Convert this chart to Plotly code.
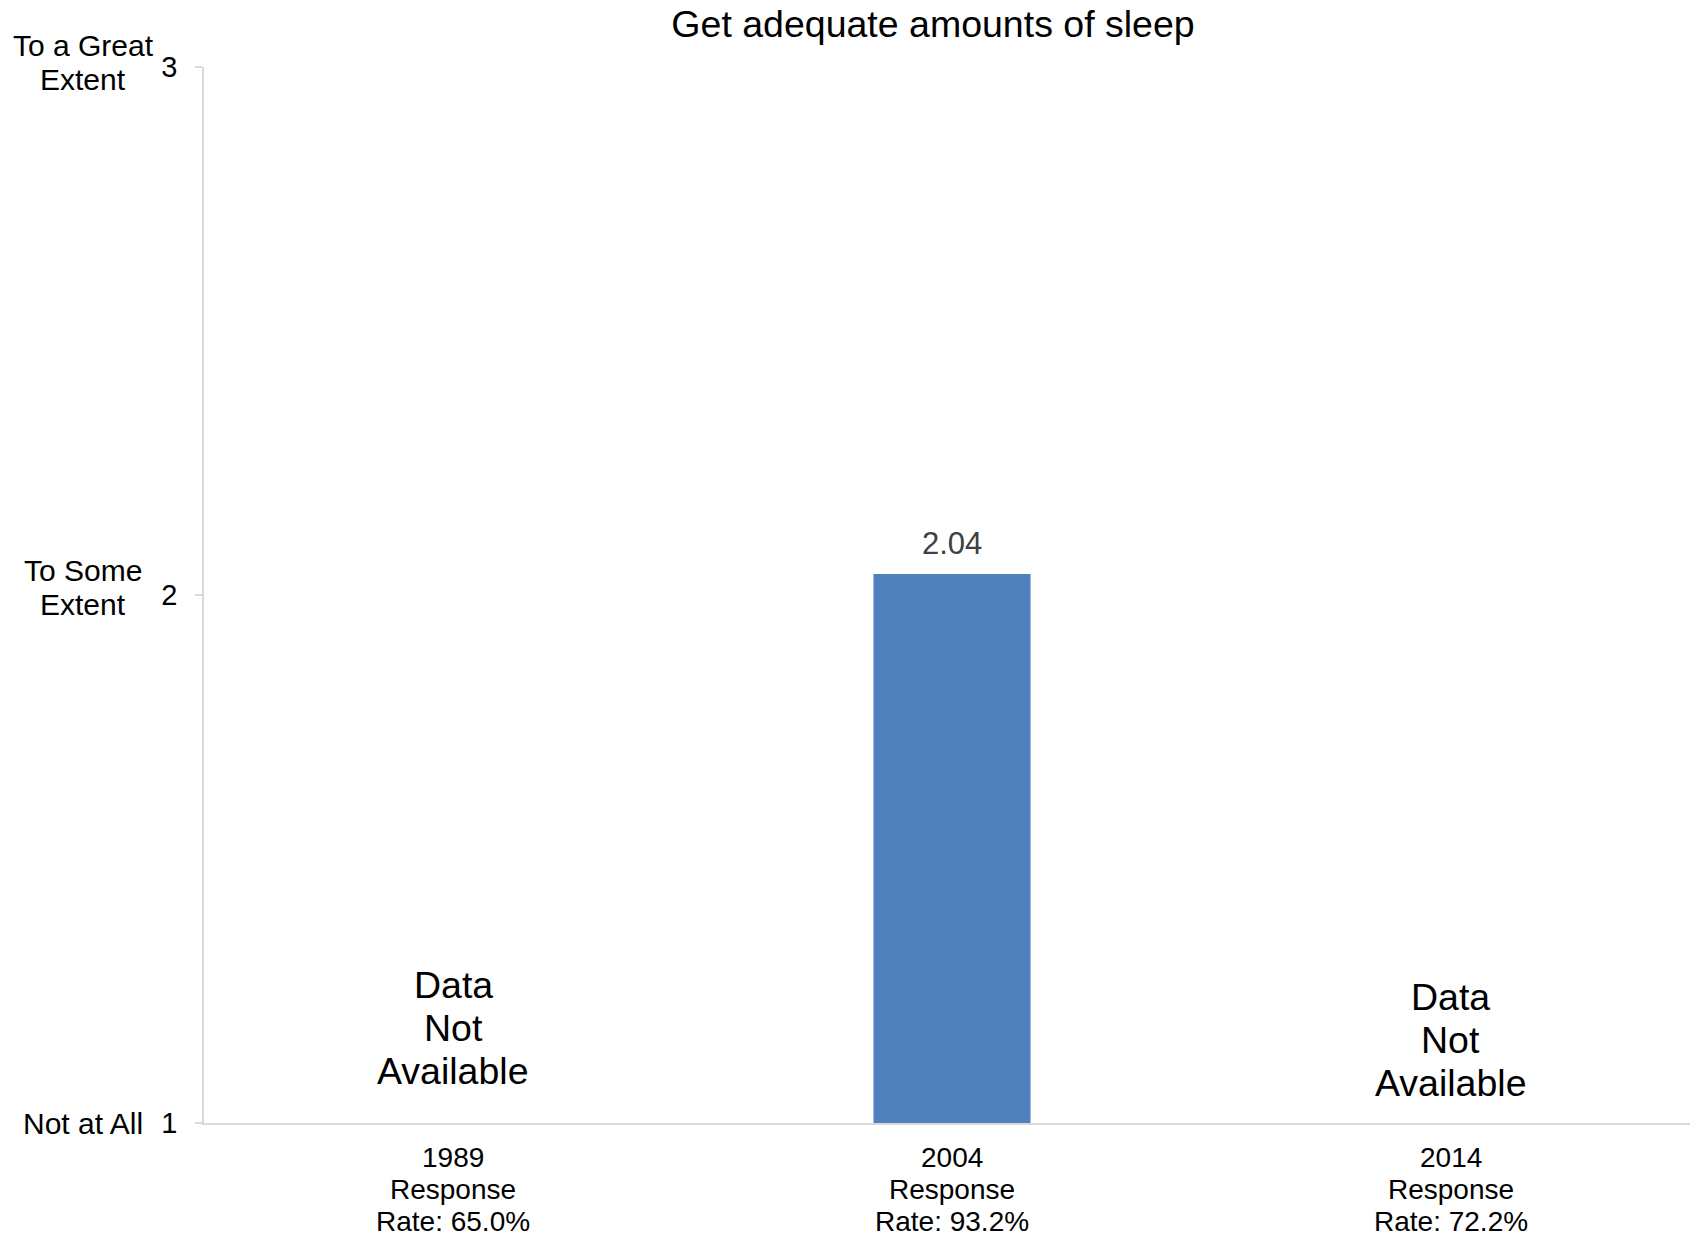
import plotly.graph_objects as go

years = ["1989", "2004", "2014"]
response_rates = ["Rate: 65.0%", "Rate: 93.2%", "Rate: 72.2%"]
categories = [f"{y} Response {r}" for y, r in zip(years, response_rates)]
category_lines = [[y, "Response", r] for y, r in zip(years, response_rates)]
values = [None, 2.04, None]
value_labels = ["", "2.04", ""]
y_tick_vals = [1, 2, 3]
y_tick_text = ["1", "2", "3"]
y_scale_labels = [["Not at All"], ["To Some", "Extent"], ["To a Great", "Extent"]]
missing_lines = ["Data", "Not", "Available"]
missing_y = [1.18, None, 1.157]

FONT = "Liberation Sans, Arial, sans-serif"
AXIS_COLOR = "#d9d9d9"
W, H = 1700, 1238  # plot area runs slightly past the right edge of the window, as in the reference

fig = go.Figure()
fig.add_trace(go.Bar(
    x=categories, y=values,
    marker=dict(color="#4f81bd", line=dict(width=0)),
    width=0.315, hoverinfo="skip",
))

annotations = []
for cat, v, lab in zip(categories, values, value_labels):
    if v is not None:
        annotations.append(dict(
            x=cat, xref="x", y=v, yref="y", text=lab, showarrow=False,
            font=dict(size=31, color="#404040", family=FONT),
            xanchor="center", yanchor="middle", yshift=30,
        ))
for cat, v, my in zip(categories, values, missing_y):
    if v is None:
        for i, line in enumerate(missing_lines):
            annotations.append(dict(
                x=cat, xref="x", y=my, yref="y", text=line, showarrow=False,
                font=dict(size=37.5, color="#000000", family=FONT),
                xanchor="center", yanchor="middle", yshift=(1 - i) * 43,
            ))
for cat, lines in zip(categories, category_lines):
    for i, line in enumerate(lines):
        annotations.append(dict(
            x=cat, xref="x", y=0, yref="paper", text=line, showarrow=False,
            font=dict(size=28, color="#000000", family=FONT),
            xanchor="center", yanchor="middle", yshift=-34 - 32 * i,
        ))
for yv, lines in zip(y_tick_vals, y_scale_labels):
    n = len(lines)
    for i, line in enumerate(lines):
        ys = 0 if n == 1 else (22 if yv == 3 else 25) - 34 * i
        annotations.append(dict(
            x=0, xref="paper", xshift=-121, y=yv, yref="y", text=line, showarrow=False,
            font=dict(size=30, color="#000000", family=FONT),
            xanchor="center", yanchor="middle", yshift=ys,
        ))

fig.update_layout(
    width=W, height=H,
    margin=dict(l=204, r=0, t=67, b=115),
    paper_bgcolor="white", plot_bgcolor="white",
    showlegend=False,
    title=dict(text="Get adequate amounts of sleep", x=933/W, xanchor="center",
               y=1-24/H, yanchor="middle",
               font=dict(size=37.5, color="#000000", family=FONT)),
    font=dict(family=FONT, color="#000000"),
    annotations=annotations,
)
fig.update_xaxes(
    type="category", categoryorder="array", categoryarray=categories,
    range=[-0.5, 2.5],
    showline=True, linecolor=AXIS_COLOR, linewidth=1.5, showgrid=False,
    ticks="", showticklabels=False, automargin=False,
)
fig.update_yaxes(
    range=[1, 3], tickvals=y_tick_vals, ticktext=y_tick_text,
    showline=True, linecolor=AXIS_COLOR, linewidth=1.5, showgrid=False,
    ticks="outside", ticklen=7, tickcolor=AXIS_COLOR, tickwidth=1.5,
    tickfont=dict(size=29, color="#000000", family=FONT),
    ticklabelstandoff=12, zeroline=False, automargin=False,
)

fig.write_html(
    "out.html",
    config={"displayModeBar": False},
    post_script="document.body.style.margin='0';document.body.style.overflow='hidden';",
)
